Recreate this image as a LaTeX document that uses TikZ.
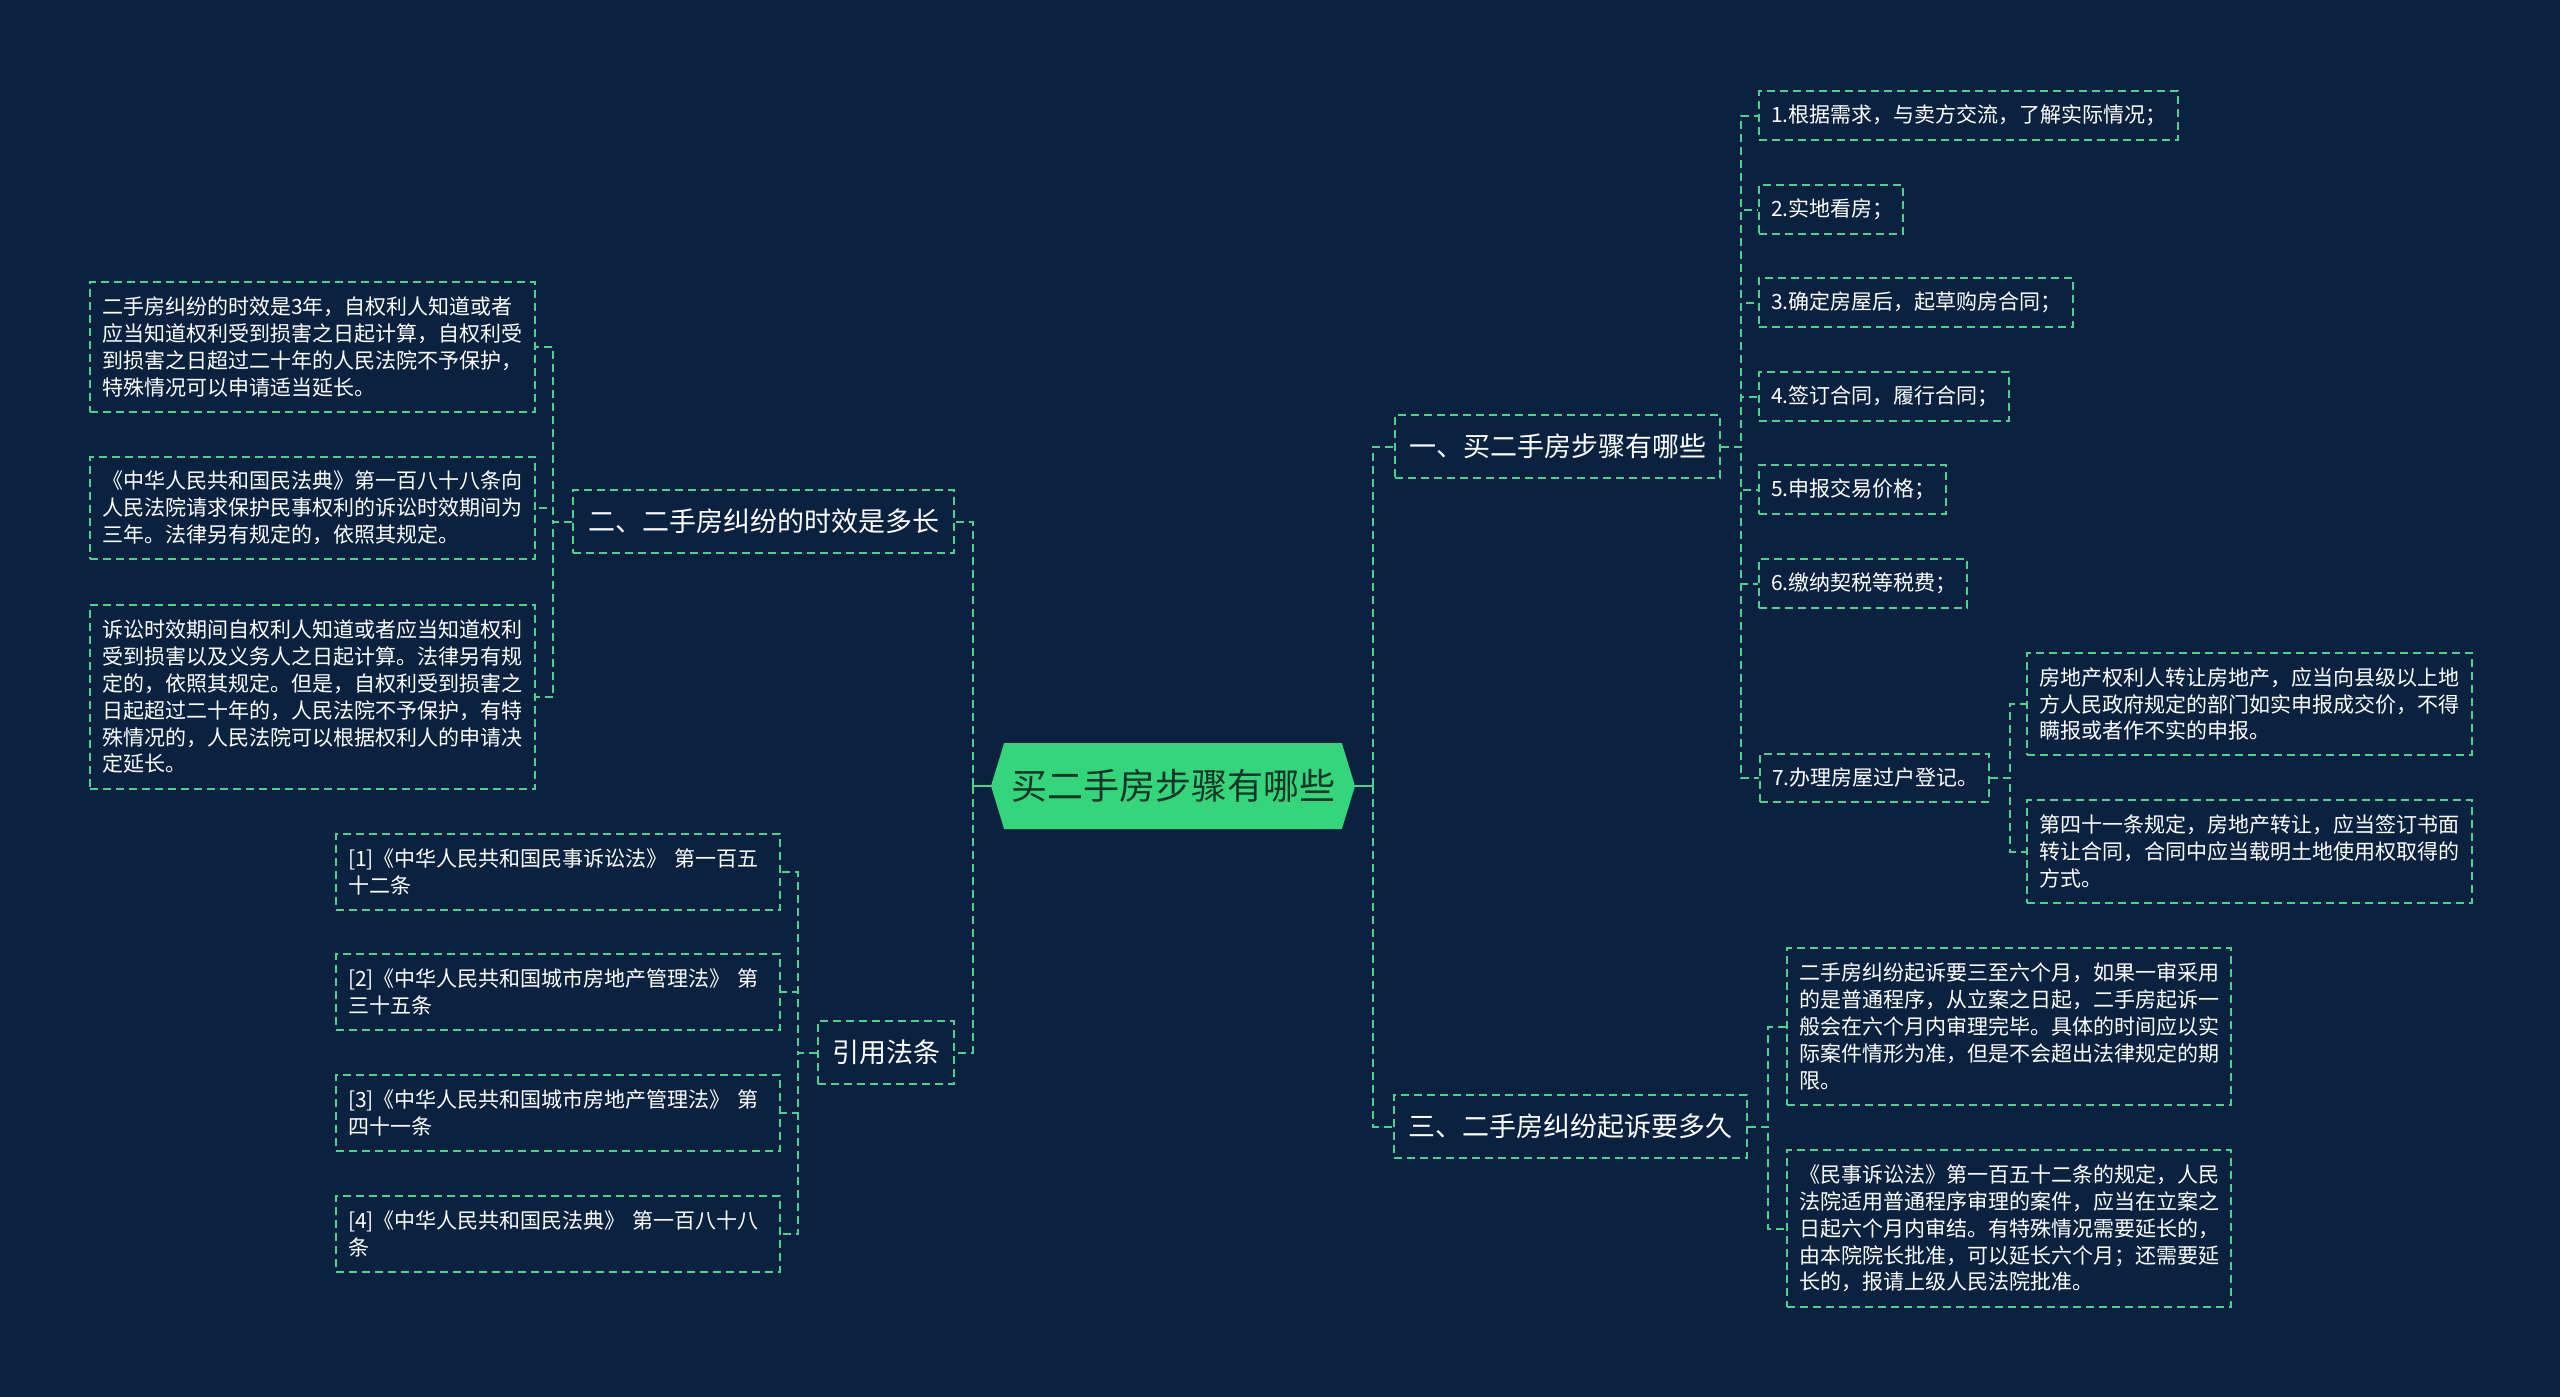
\documentclass[tikz,border=0pt]{standalone}
\usepackage{fontspec}
\setmainfont{Noto Sans CJK SC}
\usetikzlibrary{positioning,shapes.symbols}
\definecolor{navy}{HTML}{0A2240}
\definecolor{leafline}{HTML}{4FD18E}
\definecolor{rootfill}{HTML}{35D57C}
\definecolor{rootink}{HTML}{143528}

\begin{document}
\begin{tikzpicture}[x=0.5pt,y=-0.5pt,
  link/.style={draw=leafline,line width=1pt,dash pattern=on 4pt off 2.5pt},
  stub/.style={draw=leafline,line width=1pt},
  box/.style={draw=leafline,line width=1pt,dash pattern=on 4pt off 2.5pt,text=white,
              anchor=north west,align=left},
  leaf/.style={box,inner xsep=6pt,inner ysep=0pt,font=\fontsize{10.5}{13.4}\selectfont},
  sec/.style={box,inner sep=0pt,minimum height=31.5pt,font=\fontsize{13.5}{16}\selectfont},
  root/.style={shape=signal,signal to=west and east,signal pointer angle=146,fill=rootfill,
               text=rootink,inner sep=0pt,minimum width=182pt,minimum height=43pt,
               font=\fontsize{18}{20}\selectfont}]
  \useasboundingbox[fill=navy] (0,0) rectangle (2560,1397);
  \node[root] (root) at (1173,786) {买二手房步骤有哪些};
  % first level
  \node[sec,minimum width=162.5pt] (s1) at (1394,414) {一、买二手房步骤有哪些};
  \node[sec,minimum width=190.5pt] (s2) at (572,489) {二、二手房纠纷的时效是多长};
  \node[sec,minimum width=176.5pt] (s3) at (1393,1094) {三、二手房纠纷起诉要多久};
  \node[sec,minimum width=68pt] (cite) at (817,1020) {引用法条};
  % steps
  \node[leaf,text width=197.5pt,minimum height=24.5pt] (p1) at (1758,90) {1.根据需求，与卖方交流，了解实际情况；};
  \node[leaf,text width=60pt,minimum height=24.5pt] (p2) at (1758,184) {2.实地看房；};
  \node[leaf,text width=145pt,minimum height=24.5pt] (p3) at (1758,277) {3.确定房屋后，起草购房合同；};
  \node[leaf,text width=113pt,minimum height=24.5pt] (p4) at (1758,371) {4.签订合同，履行合同；};
  \node[leaf,text width=81.5pt,minimum height=24.5pt] (p5) at (1758,464) {5.申报交易价格；};
  \node[leaf,text width=92pt,minimum height=24.5pt] (p6) at (1758,558) {6.缴纳契税等税费；};
  \node[leaf,text width=102.5pt,minimum height=24pt] (p7) at (1759,753) {7.办理房屋过户登记。};
  \node[leaf,text width=210.5pt,minimum height=51pt] (q1) at (2026,652)
    {房地产权利人转让房地产，应当向县级以上地\\方人民政府规定的部门如实申报成交价，不得\\瞒报或者作不实的申报。};
  \node[leaf,text width=210.5pt,minimum height=51.5pt] (q2) at (2026,799)
    {第四十一条规定，房地产转让，应当签订书面\\转让合同，合同中应当载明土地使用权取得的\\方式。};
  % limitation period
  \node[leaf,text width=210.5pt,minimum height=65pt] (a1) at (89,281)
    {二手房纠纷的时效是3年，自权利人知道或者\\应当知道权利受到损害之日起计算，自权利受\\到损害之日超过二十年的人民法院不予保护，\\特殊情况可以申请适当延长。};
  \node[leaf,text width=210.5pt,minimum height=51pt] (a2) at (89,456)
    {《中华人民共和国民法典》第一百八十八条向\\人民法院请求保护民事权利的诉讼时效期间为\\三年。法律另有规定的，依照其规定。};
  \node[leaf,text width=210.5pt,minimum height=92pt] (a3) at (89,604)
    {诉讼时效期间自权利人知道或者应当知道权利\\受到损害以及义务人之日起计算。法律另有规\\定的，依照其规定。但是，自权利受到损害之\\日起超过二十年的，人民法院不予保护，有特\\殊情况的，人民法院可以根据权利人的申请决\\定延长。};
  % lawsuit duration
  \node[leaf,text width=210pt,minimum height=78.5pt] (t1) at (1786,947)
    {二手房纠纷起诉要三至六个月，如果一审采用\\的是普通程序，从立案之日起，二手房起诉一\\般会在六个月内审理完毕。具体的时间应以实\\际案件情形为准，但是不会超出法律规定的期\\限。};
  \node[leaf,text width=210pt,minimum height=78.5pt] (t2) at (1786,1149)
    {《民事诉讼法》第一百五十二条的规定，人民\\法院适用普通程序审理的案件，应当在立案之\\日起六个月内审结。有特殊情况需要延长的，\\由本院院长批准，可以延长六个月；还需要延\\长的，报请上级人民法院批准。};
  % citations
  \node[leaf,text width=210pt,minimum height=38pt] (c1) at (335,833) {[1]《中华人民共和国民事诉讼法》 第一百五\\十二条};
  \node[leaf,text width=210pt,minimum height=38pt] (c2) at (335,953) {[2]《中华人民共和国城市房地产管理法》 第\\三十五条};
  \node[leaf,text width=210pt,minimum height=38pt] (c3) at (335,1074) {[3]《中华人民共和国城市房地产管理法》 第\\四十一条};
  \node[leaf,text width=210pt,minimum height=38pt] (c4) at (335,1195) {[4]《中华人民共和国民法典》 第一百八十八\\条};
  % connectors
  \draw[stub] (root.east) -- ++(18,0) coordinate (rbus);
  \draw[stub] (root.west) -- ++(-18,0) coordinate (lbus);
  \foreach \c in {s1,s3}{\draw[link] (rbus) |- (\c.west);}
  \foreach \c in {s2,cite}{\draw[link] (lbus) |- (\c.east);}
  \foreach \c in {p1,p2,p3,p4,p5,p6,p7}{\draw[link] (s1.east) -- ++(20,0) |- (\c.west);}
  \foreach \c in {q1,q2}{\draw[link] (p7.east) -- ++(20,0) |- (\c.west);}
  \foreach \c in {t1,t2}{\draw[link] (s3.east) -- ++(20,0) |- (\c.west);}
  \foreach \c in {a1,a2,a3}{\draw[link] (s2.west) -- ++(-19,0) |- (\c.east);}
  \foreach \c in {c1,c2,c3,c4}{\draw[link] (cite.west) -- ++(-19,0) |- (\c.east);}
\end{tikzpicture}
\end{document}
